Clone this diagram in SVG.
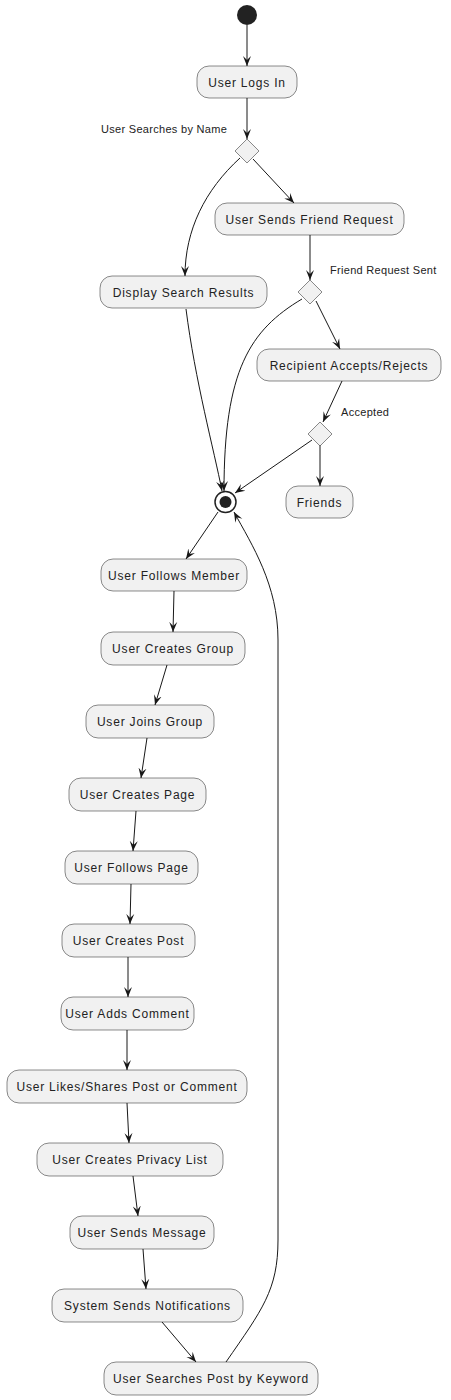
<svg xmlns="http://www.w3.org/2000/svg" width="451" height="1400" viewBox="0 0 451 1400">
<style>
.box{fill:#F1F1F1;stroke:#181818;stroke-width:0.5}
.dia{fill:#F1F1F1;stroke:#181818;stroke-width:0.5}
.t{font-family:"Liberation Sans",Arial,sans-serif;font-size:12px;fill:#222;letter-spacing:0.8px;text-anchor:middle}
.lbl{font-family:"Liberation Sans",Arial,sans-serif;font-size:11px;fill:#222;letter-spacing:0.3px}
.c{fill:none;stroke:#181818;stroke-width:1;marker-end:url(#arr)}
</style>
<defs>
<marker id="arr" viewBox="0 0 10 10" refX="10" refY="5" markerWidth="10" markerHeight="10" markerUnits="userSpaceOnUse" orient="auto">
<path d="M0,1 L10,5 L0,9 L4,5 Z" fill="#181818"/>
</marker>
</defs>
<g id="connectors">
<path class="c" d="M247,25 L247,66"/>
<path class="c" d="M247,98 L247,139"/>
<path class="c" d="M253,159 L294,203"/>
<path class="c" d="M240,158 C205,190 185,230 185,276"/>
<path class="c" d="M310,235 L310,280"/>
<path class="c" d="M316,301 L340,349"/>
<path class="c" d="M302,299 C250,330 224,370 224,491"/>
<path class="c" d="M186,309 C195,380 214,450 222,491"/>
<path class="c" d="M342,381 L323,422"/>
<path class="c" d="M312,440 L235,493"/>
<path class="c" d="M320,445 L320,486"/>
<path class="c" d="M218,512 L186,559"/>
<path class="c" d="M226,1362 C262,1310 278,1290 278,1240 L278,640 C278,585 252,545 234,512"/>
<path class="c" d="M174,591 L173,632"/>
<path class="c" d="M167,665 L155,705"/>
<path class="c" d="M147,738 L141,778"/>
<path class="c" d="M136,811 L133,851"/>
<path class="c" d="M131,884 L130,924"/>
<path class="c" d="M128,957 L128,997"/>
<path class="c" d="M127,1030 L127,1070"/>
<path class="c" d="M127,1103 L129,1143"/>
<path class="c" d="M133,1176 L138,1216"/>
<path class="c" d="M143,1249 L146,1289"/>
<path class="c" d="M162,1322 L196,1362"/>
</g>
<g id="start"><circle cx="247" cy="15" r="10" fill="#222222"/></g>
<g id="n_login"><rect class="box" x="197" y="66" width="100" height="32" rx="12"/><text class="t" x="247" y="86.5">User Logs In</text></g>
<g id="d1"><polygon class="dia" points="247,139 259,151 247,163 235,151"/><text class="lbl" x="101" y="133">User Searches by Name</text></g>
<g id="n_sendreq"><rect class="box" x="215" y="203" width="189" height="32" rx="12"/><text class="t" x="309.5" y="223.5">User Sends Friend Request</text></g>
<g id="n_display"><rect class="box" x="100" y="276" width="167" height="32" rx="12"/><text class="t" x="183.5" y="296.5">Display Search Results</text></g>
<g id="d2"><polygon class="dia" points="310,280 322,292 310,304 298,292"/><text class="lbl" x="330" y="274">Friend Request Sent</text></g>
<g id="n_recipient"><rect class="box" x="257" y="349" width="184" height="32" rx="12"/><text class="t" x="349" y="369.5">Recipient Accepts/Rejects</text></g>
<g id="d3"><polygon class="dia" points="320,422 332,434 320,446 308,434"/><text class="lbl" x="341" y="416">Accepted</text></g>
<g id="end"><circle cx="225.5" cy="502" r="10.5" fill="#fff" stroke="#222" stroke-width="1.5"/><circle cx="225.5" cy="502" r="6" fill="#222222"/></g>
<g id="n_friends"><rect class="box" x="286" y="486" width="67" height="32" rx="12"/><text class="t" x="319.5" y="506.5">Friends</text></g>
<g id="n_follow"><rect class="box" x="101" y="559" width="146" height="32" rx="12"/><text class="t" x="174" y="579.5">User Follows Member</text></g>
<g id="n_cgroup"><rect class="box" x="101" y="632" width="144" height="33" rx="12"/><text class="t" x="173" y="653">User Creates Group</text></g>
<g id="n_jgroup"><rect class="box" x="86" y="705" width="128" height="33" rx="12"/><text class="t" x="150" y="726">User Joins Group</text></g>
<g id="n_cpage"><rect class="box" x="69" y="778" width="137" height="33" rx="12"/><text class="t" x="137.5" y="799">User Creates Page</text></g>
<g id="n_fpage"><rect class="box" x="65" y="851" width="133" height="33" rx="12"/><text class="t" x="131.5" y="872">User Follows Page</text></g>
<g id="n_cpost"><rect class="box" x="62" y="924" width="133" height="33" rx="12"/><text class="t" x="128.5" y="945">User Creates Post</text></g>
<g id="n_comment"><rect class="box" x="61" y="997" width="133" height="33" rx="12"/><text class="t" x="127.5" y="1018">User Adds Comment</text></g>
<g id="n_likes"><rect class="box" x="7" y="1070" width="240" height="33" rx="12"/><text class="t" x="127" y="1091">User Likes/Shares Post or Comment</text></g>
<g id="n_privacy"><rect class="box" x="37" y="1143" width="186" height="33" rx="12"/><text class="t" x="130" y="1164">User Creates Privacy List</text></g>
<g id="n_message"><rect class="box" x="70" y="1216" width="144" height="33" rx="12"/><text class="t" x="142" y="1237">User Sends Message</text></g>
<g id="n_notif"><rect class="box" x="52" y="1289" width="191" height="33" rx="12"/><text class="t" x="147.5" y="1310">System Sends Notifications</text></g>
<g id="n_keyword"><rect class="box" x="104" y="1362" width="214" height="33" rx="12"/><text class="t" x="211" y="1383">User Searches Post by Keyword</text></g>
</svg>
